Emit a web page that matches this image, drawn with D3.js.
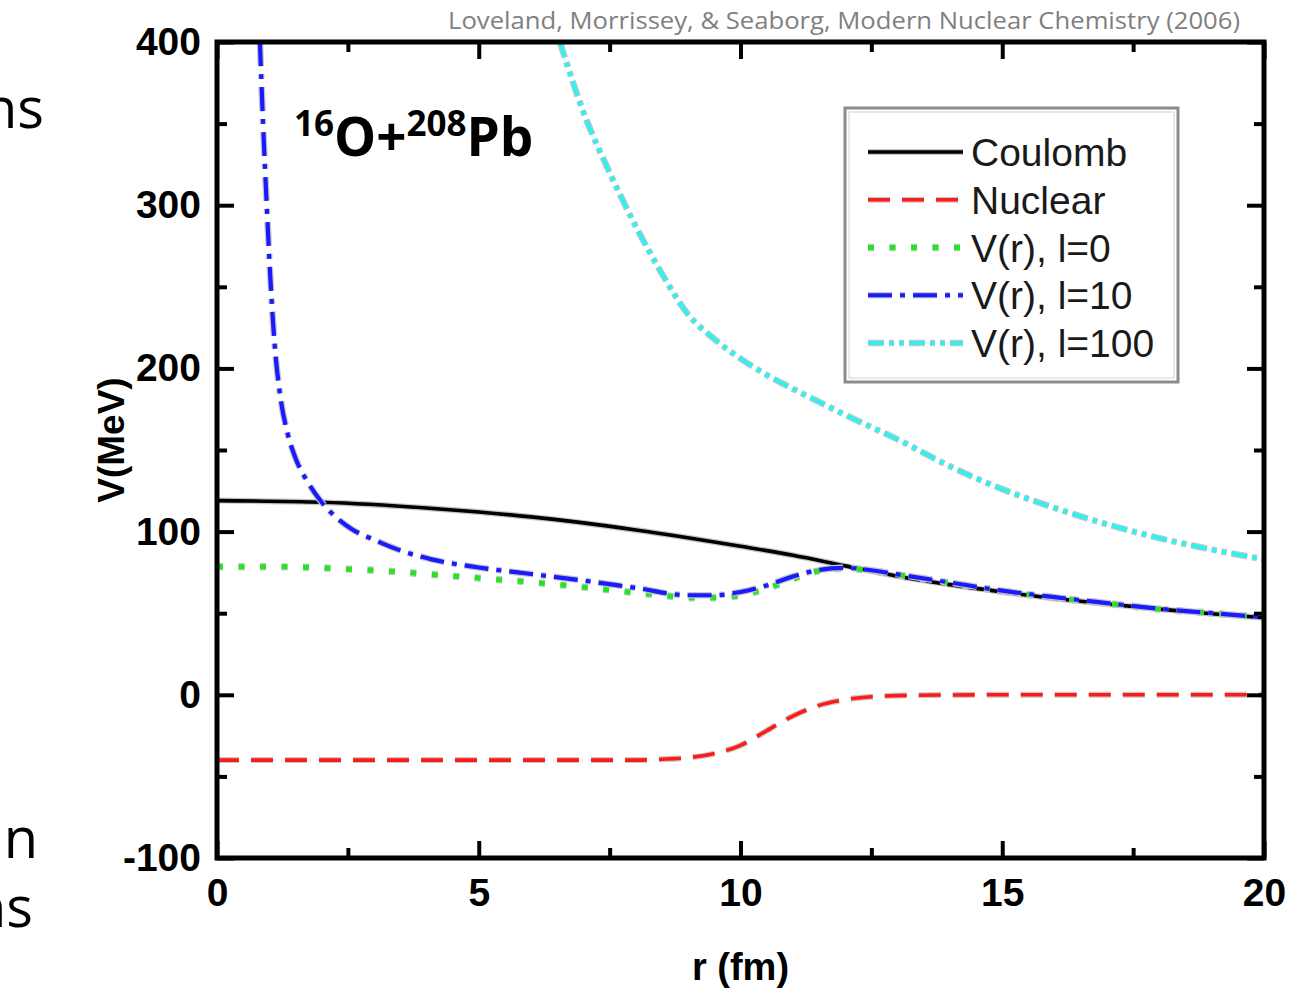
<!DOCTYPE html>
<html>
<head>
<meta charset="utf-8">
<script src="https://cdn.jsdelivr.net/npm/d3@7/dist/d3.min.js"></script>
<style>
  html, body { margin: 0; padding: 0; background: #fff; }
  svg { display: block; }
</style>
</head>
<body>
<div id="chart"></div>
<script>
// ---- values (r in fm, V in MeV) ----
const rCoulomb = [0, 2, 4, 5, 6, 8, 10, 11, 12, 13, 14, 15, 16, 17, 18, 19, 20];
const vCoulomb = [119, 118, 114.5, 112, 109, 101, 91, 85.5, 79, 72.7, 67.5, 63, 59, 55.6, 52.5, 49.7, 47.2];

const rNuclear = [0, 2, 4, 6, 8, 8.5, 9, 9.5, 10, 10.5, 11, 11.5, 12, 12.5, 13, 14, 15, 20];
const vNuclear = [-40, -40, -40, -40, -40, -39.5, -38.5, -36, -31, -22, -13, -6.5, -3, -1.2, -0.5, -0.1, 0, 0];

const rL0 = [0, 1, 2, 2.5, 3, 4, 5, 6, 7, 8, 8.5, 9, 9.5, 10, 10.5, 11, 11.5, 12, 12.5, 13, 14, 15, 16, 17, 18, 19, 20];
const vL0 = [78.5, 78.5, 77.8, 77, 76.3, 74, 71.5, 69, 66, 62.5, 61, 59.5, 59.5, 61, 65, 71, 76, 77.5, 76, 73.5, 68.5, 63.5, 59.5, 56, 52.5, 50, 47.5];

const rL10 = [0.82, 0.88, 0.95, 1.02, 1.1, 1.2, 1.35, 1.5, 1.72, 2.0, 2.3, 2.6, 3.0, 3.5, 4.1, 5.0, 6, 7, 8, 9, 9.5, 10, 10.5, 11, 11.5, 12, 12.5, 13, 14, 15, 16, 17, 18, 19, 20];
const vL10 = [400, 350, 300, 255, 215, 185, 160, 145, 131, 118, 108, 101, 95, 88.5, 83, 78, 74, 70, 65.5, 61, 61, 63, 67, 72.5, 76.5, 77.8, 76.3, 73.8, 68.8, 63.8, 59.8, 56.2, 52.7, 50, 47.5];

const rL100 = [6.55, 7, 7.5, 8, 8.5, 9, 9.5, 10, 10.5, 11, 11.5, 12, 12.5, 13, 14, 15, 16, 17, 18, 19, 20];
const vL100 = [400, 357, 320, 287, 258, 233, 218, 206, 196, 187.5, 179.5, 171.5, 164, 156.5, 140, 126, 114.5, 104.5, 96, 89, 83];

const seriesNames = ["Coulomb", "Nuclear", "V(r), l=0", "V(r), l=10", "V(r), l=100"];
const seriesR = [rCoulomb, rNuclear, rL0, rL10, rL100];
const seriesV = [vCoulomb, vNuclear, vL0, vL10, vL100];

const xTicks = [0, 5, 10, 15, 20];
const xMinor = [2.5, 7.5, 12.5, 17.5];
const yTicks = [-100, 0, 100, 200, 300, 400];
const yMinor = [-50, 50, 150, 250, 350];

// line looks, keyed by series name
const styles = {
  "Coulomb":     { color: "#000000", width: 3.6, dash: null },
  "Nuclear":     { color: "#ff1a1a", width: 3.6, dash: "22,12" },
  "V(r), l=0":   { color: "#22e622", width: 5,   dash: "6,15.5" },
  "V(r), l=10":  { color: "#1a1aff", width: 4.2, dash: "24,8,5,8" },
  "V(r), l=100": { color: "#33f0f0", width: 4.2, dash: "16,5,5,5,5,5" }
};

const W = 1293, H = 993;
const plot = { left: 217, top: 42, right: 1264, bottom: 858 };

const svg = d3.select("#chart").append("svg")
  .attr("width", W)
  .attr("height", H);

// Slide text fragments, cut off at the left edge as in the slide
const slideFont = "'Open Sans', 'Noto Sans', sans-serif";
[["ns", 44, 128], ["n", 38, 858], ["ns", 33, 927]].forEach(([t, x, y]) => {
  svg.append("text")
    .attr("x", x).attr("y", y)
    .attr("text-anchor", "end")
    .attr("font-family", slideFont)
    .attr("font-size", 56)
    .attr("fill", "#000")
    .text(t);
});

// Citation
svg.append("text")
  .attr("x", 448).attr("y", 29)
  .attr("font-family", slideFont)
  .attr("font-size", 24.5)
  .attr("textLength", 792)
  .attr("lengthAdjust", "spacingAndGlyphs")
  .attr("fill", "#808080")
  .text("Loveland, Morrissey, & Seaborg, Modern Nuclear Chemistry (2006)");

// Scales
const x = d3.scaleLinear().domain([0, 20]).range([plot.left, plot.right]);
const y = d3.scaleLinear().domain([-100, 400]).range([plot.bottom, plot.top]);

const axisFont = "'Liberation Sans', Arial, Helvetica, sans-serif";
const plainNum = d => String(d);

// Curves, clipped to the frame
svg.append("clipPath").attr("id", "clip")
  .append("rect")
  .attr("x", plot.left).attr("y", plot.top)
  .attr("width", plot.right - plot.left)
  .attr("height", plot.bottom - plot.top);

const line = d3.line()
  .x(d => x(d[0]))
  .y(d => y(d[1]))
  .curve(d3.curveMonotoneX);

const curves = svg.append("g").attr("clip-path", "url(#clip)");

seriesNames.forEach((name, i) => {
  const pts = seriesR[i].map((r, j) => [r, seriesV[i][j]]);
  const s = styles[name];
  // grey halo like the scanned figure
  curves.append("path")
    .attr("d", line(pts))
    .attr("fill", "none")
    .attr("stroke", "#c6c6c6")
    .attr("stroke-width", s.width + 2.4)
    .attr("stroke-dasharray", s.dash);
  curves.append("path")
    .attr("d", line(pts))
    .attr("fill", "none")
    .attr("stroke", s.color)
    .attr("stroke-width", s.width)
    .attr("stroke-dasharray", s.dash);
});

// Axes: ticks point inward on all four sides
function styleAxis(g) {
  g.select(".domain").remove();
  g.selectAll(".tick line").attr("stroke", "#000").attr("stroke-width", 4);
  g.selectAll(".tick text")
    .attr("font-family", axisFont)
    .attr("font-weight", "bold")
    .attr("font-size", 39)
    .attr("fill", "#000");
}

svg.append("g")
  .attr("transform", `translate(0,${plot.bottom})`)
  .call(d3.axisBottom(x).tickValues(xTicks).tickSize(-17).tickPadding(20).tickFormat(plainNum))
  .call(styleAxis);
svg.append("g")
  .attr("transform", `translate(0,${plot.bottom})`)
  .call(d3.axisBottom(x).tickValues(xMinor).tickSize(-10).tickFormat(""))
  .call(styleAxis);
svg.append("g")
  .attr("transform", `translate(0,${plot.top})`)
  .call(d3.axisTop(x).tickValues(xTicks).tickSize(-17).tickFormat(""))
  .call(styleAxis);
svg.append("g")
  .attr("transform", `translate(0,${plot.top})`)
  .call(d3.axisTop(x).tickValues(xMinor).tickSize(-10).tickFormat(""))
  .call(styleAxis);

svg.append("g")
  .attr("transform", `translate(${plot.left},0)`)
  .call(d3.axisLeft(y).tickValues(yTicks).tickSize(-17).tickPadding(16).tickFormat(plainNum))
  .call(styleAxis);
svg.append("g")
  .attr("transform", `translate(${plot.left},0)`)
  .call(d3.axisLeft(y).tickValues(yMinor).tickSize(-10).tickFormat(""))
  .call(styleAxis);
svg.append("g")
  .attr("transform", `translate(${plot.right},0)`)
  .call(d3.axisRight(y).tickValues(yTicks).tickSize(-17).tickFormat(""))
  .call(styleAxis);
svg.append("g")
  .attr("transform", `translate(${plot.right},0)`)
  .call(d3.axisRight(y).tickValues(yMinor).tickSize(-10).tickFormat(""))
  .call(styleAxis);

// Frame
svg.append("rect")
  .attr("x", plot.left).attr("y", plot.top)
  .attr("width", plot.right - plot.left)
  .attr("height", plot.bottom - plot.top)
  .attr("fill", "none")
  .attr("stroke", "#000")
  .attr("stroke-width", 5);

// Axis titles
svg.append("text")
  .attr("x", (plot.left + plot.right) / 2).attr("y", 980)
  .attr("text-anchor", "middle")
  .attr("font-family", axisFont)
  .attr("font-weight", "bold")
  .attr("font-size", 38)
  .text("r (fm)");

svg.append("text")
  .attr("transform", `translate(124,440) rotate(-90)`)
  .attr("text-anchor", "middle")
  .attr("font-family", axisFont)
  .attr("font-weight", "bold")
  .attr("font-size", 37)
  .text("V(MeV)");

// Reaction label
const title = svg.append("text")
  .attr("x", 294).attr("y", 156)
  .attr("font-family", slideFont)
  .attr("font-weight", "bold")
  .attr("font-size", 53)
  .attr("fill", "#000");
title.append("tspan").attr("font-size", 35).attr("dy", -20).text("16");
title.append("tspan").attr("dy", 20).text("O+");
title.append("tspan").attr("font-size", 35).attr("dy", -20).text("208");
title.append("tspan").attr("dy", 20).text("Pb");

// Legend
const lg = { x: 845, y: 108, w: 333, h: 274 };
svg.append("rect")
  .attr("x", lg.x).attr("y", lg.y).attr("width", lg.w).attr("height", lg.h)
  .attr("fill", "#fff")
  .attr("stroke", "#8c8c8c")
  .attr("stroke-width", 3);
svg.append("rect")
  .attr("x", lg.x + 4).attr("y", lg.y + 4).attr("width", lg.w - 8).attr("height", lg.h - 8)
  .attr("fill", "none")
  .attr("stroke", "#d2d2d2")
  .attr("stroke-width", 1);

const rowY = d3.scalePoint().domain(seriesNames).range([152, 343]);

seriesNames.forEach(name => {
  const s = styles[name];
  const yy = rowY(name);
  svg.append("line")
    .attr("x1", 868).attr("x2", 963).attr("y1", yy).attr("y2", yy)
    .attr("stroke", "#c6c6c6")
    .attr("stroke-width", s.width + 2.4)
    .attr("stroke-dasharray", s.dash);
  svg.append("line")
    .attr("x1", 868).attr("x2", 963).attr("y1", yy).attr("y2", yy)
    .attr("stroke", s.color)
    .attr("stroke-width", s.width)
    .attr("stroke-dasharray", s.dash);
  svg.append("text")
    .attr("x", 971).attr("y", yy)
    .attr("dy", "0.36em")
    .attr("font-family", axisFont)
    .attr("font-size", 39)
    .attr("fill", "#1a1a1a")
    .text(name);
});
</script>
</body>
</html>
